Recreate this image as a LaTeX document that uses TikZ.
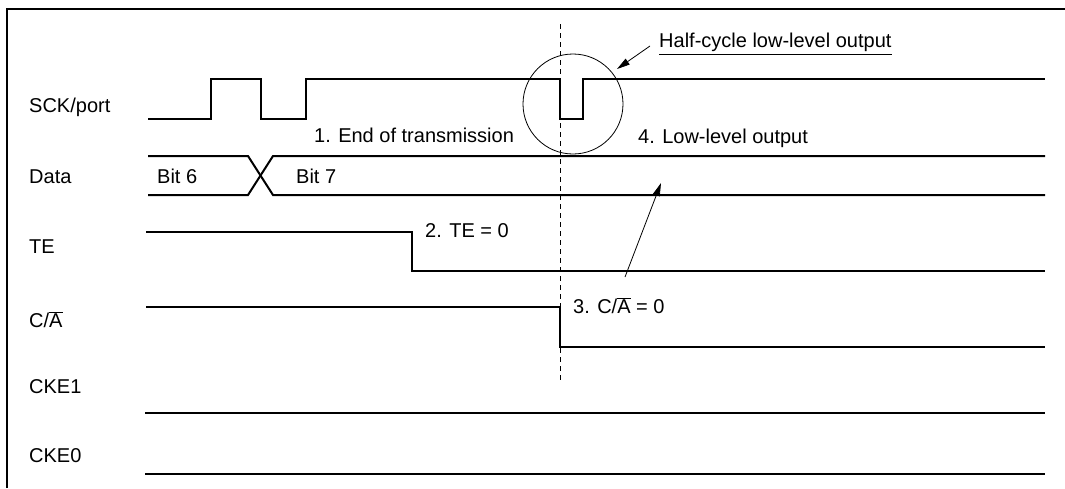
\documentclass[tikz,border=0pt]{standalone}
\usepackage{fontspec}
\setmainfont{Liberation Sans}
\usetikzlibrary{arrows.meta}
\newcommand{\ovl}[1]{$\overline{\hbox{#1}}$}
\begin{document}
\begin{tikzpicture}[x=1pt,y=-1pt,
  sig/.style={line width=2pt, line join=miter},
  thinline/.style={line width=0.8pt},
  lbl/.style={anchor=base west, inner sep=0pt, font=\fontsize{20}{24}\selectfont},
  pointer/.style={thinline, -{Triangle[length=13pt,width=7pt]}}]
\useasboundingbox (0,0) rectangle (1065,488);
% frame
\draw[line width=2pt] (7,488) -- (7,9) -- (1065,9);
% signal labels
\node[lbl] (lsck) at (29,112) {SCK/port};
\node[lbl] (ldata) at (29,183) {Data};
\node[lbl] (lte) at (29,253) {TE};
\node[lbl] (lca) at (29,327) {C/\ovl{A}};
\node[lbl] (lcke1) at (29,393) {CKE1};
\node[lbl] (lcke0) at (29,462) {CKE0};
% SCK
\draw[sig] (148,119) -- (211,119) -- (211,79) -- (261,79) -- (261,119) -- (306,119) -- (306,79)
  -- (560,79) -- (560,119) -- (583,119) -- (583,79) -- (1045,79);
% Data
\draw[sig] (148,156) -- (248,156) -- (273,195) -- (1045,195);
\draw[sig] (148,195) -- (248,195) -- (273,156) -- (1045,156);
% TE
\draw[sig] (146,232) -- (412,232) -- (412,271) -- (1045,271);
% C/A
\draw[sig] (146,307) -- (560,307) -- (560,347) -- (1045,347);
% CKE1, CKE0
\draw[sig] (145,413) -- (1045,413);
\draw[sig] (145,474) -- (1045,474);
% dashed marker and circle
\draw[thinline, dash pattern=on 5pt off 4pt] (560,24) -- (560,380);
\draw[thinline] (573,104) circle[radius=50];
% annotations
\node[lbl] (b6) at (157,183) {Bit 6};
\node[lbl] (b7) at (296,183) {Bit 7};
\node[lbl] (t1) at (314,142) {1. End of transmission};
\node[lbl] (t2) at (425,237) {2. TE = 0};
\node[lbl] (t3) at (573,313) {3. C/\ovl{A} = 0};
\node[lbl] (t4) at (638,143) {4. Low-level output};
\node[lbl] (th) at (659,47) {Half-cycle low-level output};
\draw[thinline] ([yshift=-7pt]th.base west) -- ([yshift=-7pt]th.base east);
% pointers
\coordinate (a1s) at (650,46);
\coordinate (a1e) at (617,69);
\draw[pointer] (a1s) -- (a1e);
\coordinate (a2s) at (625,277);
\coordinate (a2e) at (661,183);
\draw[pointer] (a2s) -- (a2e);
\end{tikzpicture}
\end{document}
